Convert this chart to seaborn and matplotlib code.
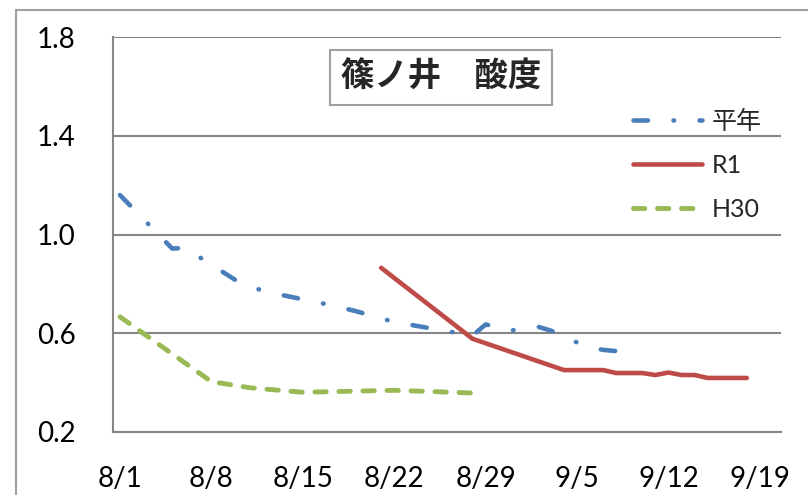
import numpy as np
import pandas as pd
import matplotlib
matplotlib.use("Agg")
import matplotlib.pyplot as plt
import matplotlib.dates as mdates
from matplotlib.ticker import FuncFormatter
from matplotlib.patches import Rectangle
import seaborn as sns

# 平年 (normal year)
heinen_dates = ['08-01', '08-05', '08-06', '08-10', '08-12', '08-17', '08-19', '08-22',
                '08-28', '08-29', '08-31', '09-02', '09-03', '09-05', '09-06', '09-07', '09-08']
heinen_vals = [1.16, 0.943, 0.945, 0.81, 0.77, 0.715, 0.69, 0.645,
               0.59, 0.635, 0.611, 0.626, 0.61, 0.562, 0.542, 0.532, 0.527]

# R1
r1_dates = ['08-21', '08-28', '09-04', '09-07', '09-08', '09-10', '09-11', '09-12',
            '09-13', '09-14', '09-15', '09-18']
r1_vals = [0.865, 0.577, 0.45, 0.45, 0.438, 0.438, 0.43, 0.44, 0.43, 0.43, 0.418, 0.418]

# H30
h30_dates = ['08-01', '08-08', '08-11', '08-15', '08-22', '08-28']
h30_vals = [0.666, 0.403, 0.378, 0.36, 0.368, 0.357]

tick_dates = ['08-01', '08-08', '08-15', '08-22', '08-29', '09-05', '09-12', '09-19']
y_ticks = [0.2, 0.6, 1.0, 1.4, 1.8]

title = '篠ノ井\u3000酸度'

sns.set_style("white")
plt.rcParams['font.family'] = ['Lato', 'Noto Sans CJK JP', 'DejaVu Sans']
plt.rcParams['lines.scale_dashes'] = False


def to_dt(lst):
    return pd.to_datetime(['2019-' + d for d in lst])


fig = plt.figure(figsize=(8.08, 4.95), dpi=100)
ax = fig.add_axes([113.3 / 808, 1 - 431.7 / 495, (780.7 - 113.3) / 808, (431.7 - 37.3) / 495])

blue = '#4A7EBB'
red = '#BE4B48'
green = '#98B954'

sns.lineplot(x=to_dt(heinen_dates), y=heinen_vals, ax=ax, color=blue, lw=3.3, label='平年')
sns.lineplot(x=to_dt(r1_dates), y=r1_vals, ax=ax, color=red, lw=3.3, label='R1')
sns.lineplot(x=to_dt(h30_dates), y=h30_vals, ax=ax, color=green, lw=3.5, label='H30')

lines = ax.get_lines()
lines[0].set_dashes([10.4, 18.4, 0.4, 18.4])
lines[0].set_dash_capstyle('round')
lines[2].set_dashes([8.2, 9.1])
lines[2].set_dash_capstyle('round')
lines[1].set_solid_capstyle('round')
for ln in lines:
    ln.set_solid_joinstyle('round')
    ln.set_dash_joinstyle('round')

start = pd.Timestamp('2019-08-01')
ax.set_xlim(mdates.date2num(start - pd.Timedelta(days=0.51)),
            mdates.date2num(start + pd.Timedelta(days=50.6)))
ax.set_ylim(0.2, 1.8)
ax.set_xticks(mdates.date2num(to_dt(tick_dates)))
ax.xaxis.set_major_formatter(FuncFormatter(
    lambda v, p: '{}/{}'.format(mdates.num2date(v).month, mdates.num2date(v).day)))
ax.set_yticks(y_ticks)
ax.yaxis.set_major_formatter(FuncFormatter(lambda v, p: '{:.1f}'.format(v)))
ax.set_xlabel('')
ax.set_ylabel('')

ax.grid(axis='y', color='#868686', lw=1.5)
ax.grid(axis='x', visible=False)
ax.set_axisbelow(True)
for s in ['top', 'right']:
    ax.spines[s].set_visible(False)
for s in ['left', 'bottom']:
    ax.spines[s].set_color('#868686')
    ax.spines[s].set_linewidth(1.5)
ax.tick_params(axis='both', length=0, labelsize=20, colors='black')
ax.tick_params(axis='y', pad=27)
ax.tick_params(axis='x', pad=25)

leg = ax.legend(loc='upper left', bbox_to_anchor=(633 / 808, 1 - 110 / 495),
                bbox_transform=fig.transFigure, frameon=False, fontsize=18,
                handlelength=2.75, handletextpad=0.4, labelspacing=0.83,
                borderpad=0, borderaxespad=0)

fig.text(440.8 / 808, 1 - 77.5 / 495, title, ha='center', va='center', fontsize=24,
         fontweight='bold', family=['Noto Sans CJK JP'],
         bbox=dict(boxstyle='square,pad=0.32', fc='white', ec='#A0A0A0', lw=1.5))

fig.patches.append(Rectangle((16 / 808, -0.1), 1.2, 1 - 10 / 495 + 0.1, transform=fig.transFigure,
                             fill=False, ec='#A0A0A0', lw=1.5, zorder=0))

fig.savefig('out.png', dpi=100)
